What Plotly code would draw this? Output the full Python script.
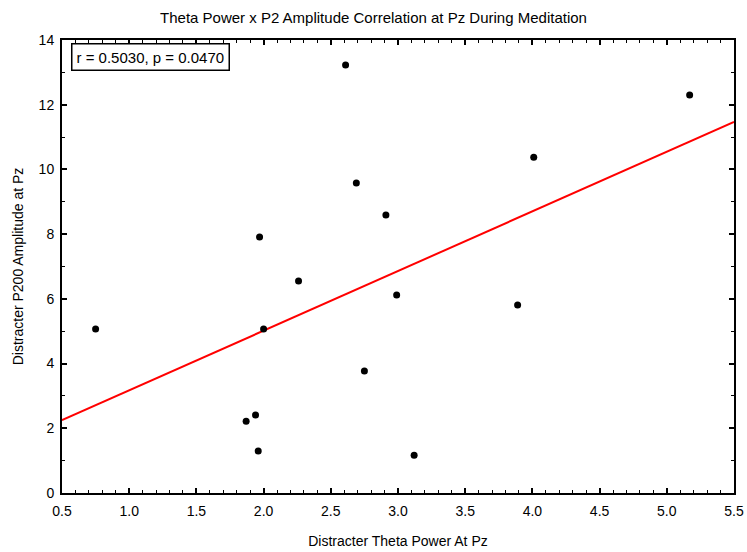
import plotly.graph_objects as go

theta_power = [0.75, 1.87, 1.94, 1.96, 1.97, 2.00, 2.26, 2.61, 2.69, 2.75, 2.91, 2.99, 3.12, 3.89, 4.01, 5.17]
p200_amp = [5.07, 2.22, 2.41, 1.30, 7.91, 5.07, 6.55, 13.23, 9.58, 3.77, 8.59, 6.12, 1.17, 5.81, 10.38, 12.30]
fit_x = [0.5, 5.5]
fit_y = [2.25, 11.47]
stats_label = "r = 0.5030, p = 0.0470"
x_ticks = [0.5, 1.0, 1.5, 2.0, 2.5, 3.0, 3.5, 4.0, 4.5, 5.0, 5.5]
y_ticks = [0, 2, 4, 6, 8, 10, 12, 14]

FONT = "Liberation Sans, Arial, sans-serif"

fig = go.Figure()
fig.add_trace(go.Scatter(x=fit_x, y=fit_y, mode="lines",
                         line=dict(color="#ff0000", width=2), showlegend=False))
fig.add_trace(go.Scatter(x=theta_power, y=p200_amp, mode="markers",
                         marker=dict(color="black", size=7), showlegend=False))

axis_common = dict(
    showgrid=False, zeroline=False, showline=True, linecolor="black", linewidth=2,
    mirror="ticks", ticks="inside", tickcolor="black", ticklen=5, tickwidth=1.5,
    tickfont=dict(family=FONT, size=14, color="black"), automargin=False,
)
fig.update_xaxes(range=[0.5, 5.5], tickvals=x_ticks,
                 ticktext=[f"{v:.1f}" for v in x_ticks],
                 ticklabelstandoff=4,
                 minor=dict(dtick=0.1, ticks="inside", ticklen=3, tickcolor="black", tickwidth=1),
                 title=dict(text="Distracter Theta Power At Pz", font=dict(family=FONT, size=14, color="black"), standoff=18),
                 **axis_common)
fig.update_yaxes(range=[0, 14], tickvals=y_ticks,
                 ticklabelstandoff=3,
                 minor=dict(dtick=1, ticks="inside", ticklen=3, tickcolor="black", tickwidth=1),
                 title=dict(text="Distracter P200 Amplitude at Pz", font=dict(family=FONT, size=14, color="black"), standoff=12),
                 **axis_common)

fig.add_annotation(xref="paper", yref="paper", x=0.0134, y=0.993, xanchor="left", yanchor="top",
                   text=stats_label, showarrow=False,
                   font=dict(family=FONT, size=15, color="black"),
                   bordercolor="black", borderwidth=1.5, borderpad=4, bgcolor="white")

fig.update_layout(
    width=747, height=552,
    margin=dict(l=62, r=13, t=40, b=59),
    paper_bgcolor="white", plot_bgcolor="white",
    title=dict(text="Theta Power x P2 Amplitude Correlation at Pz During Meditation",
               x=0.5, xanchor="center", y=0.967, yanchor="middle",
               font=dict(family=FONT, size=15, color="black")),
)

fig.write_html("out.html")
